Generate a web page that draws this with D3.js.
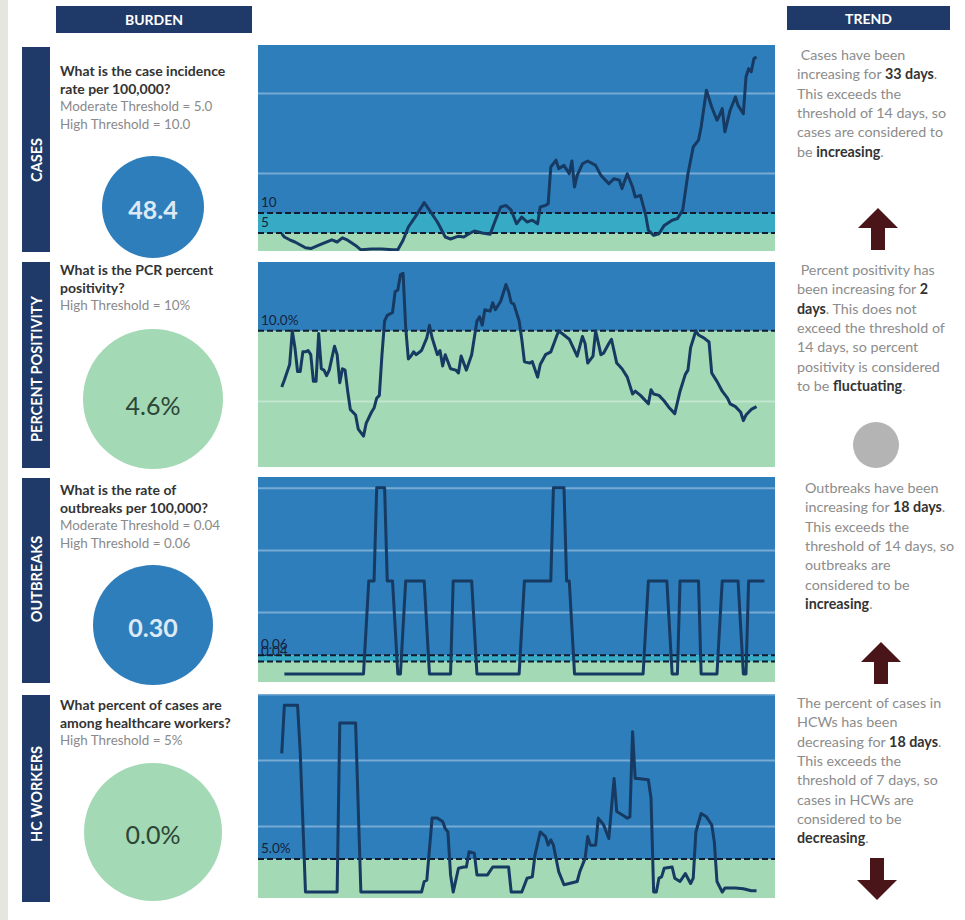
<!DOCTYPE html>
<html>
<head>
<meta charset="utf-8">
<script src="https://cdnjs.cloudflare.com/ajax/libs/d3/7.8.5/d3.min.js"></script>
<style>
  body { margin: 0; background: #fff; }
  text { font-family: Lato, "Open Sans", sans-serif; }
</style>
</head>
<body>
<div id="dashboard"></div>
<script>
// ================= data =================
// [day, value]
var casesSeries = [[0,4.8],[1,4.0],[3,3.3],[5,2.75],[9,1.3],[11,1.1],[15,2.2],[19,3.3],[21,2.75],[23,3.8],[25,3.2],[28,1.9],[30,0.8],[34,1.0],[38,1.0],[42,0.8],[44,0.8],[46,3.2],[48,6.5],[51,9.4],[54,12.6],[56,10.7],[59,7.75],[62,4.0],[64,3.5],[67,4.2],[69,4.0],[71,4.8],[73,5.5],[76,5.0],[79,4.7],[81,8.2],[83,11.5],[85,11.9],[87,10.7],[89,7.3],[91,9.0],[93,7.75],[95,8.2],[97,7.3],[98,11.5],[100,11.9],[101,12.3],[102,21.5],[104,23.2],[105,21.1],[107,21.9],[109,19.8],[110,23.0],[111,16.5],[112,19.4],[114,22.3],[116,23.0],[119,21.9],[121,19.4],[124,17.3],[126,18.6],[128,18.2],[129,16.1],[131,19.8],[133,16.5],[134,14.0],[136,14.4],[138,9.4],[139,5.7],[141,4.4],[143,4.8],[145,6.9],[148,8.2],[150,8.6],[152,10.7],[154,19.8],[156,26.5],[158,28.2],[159,31.5],[161,40.7],[163,36.5],[165,33.2],[166,34.5],[167,36.1],[168,30.3],[170,35.7],[172,39.0],[173,36.9],[175,34.8],[176,44.0],[177,46.1],[178,45.3],[179,48.6],[180,49.0]];

var positivitySeries = [[0,6.0],[1,6.5],[3,7.6],[4,10.0],[5,8.8],[6,7.1],[7,7.1],[8,8.5],[9,8.5],[10,8.6],[11,8.3],[12,6.4],[13,6.4],[14,9.8],[15,7.3],[16,7.2],[17,6.8],[18,7.2],[20,8.9],[21,8.3],[22,6.3],[23,7.3],[24,7.2],[25,5.7],[26,4.4],[28,4.0],[29,3.0],[31,2.5],[32,3.4],[34,4.2],[35,4.5],[36,5.2],[37,5.4],[38,8.3],[39,10.7],[40,11.1],[42,11.3],[43,12.8],[44,12.9],[45,14.0],[46,14.1],[47,10.2],[48,8.0],[49,8.2],[50,8.5],[51,8.3],[53,8.6],[55,9.5],[56,10.4],[57,9.5],[59,8.3],[60,8.6],[61,7.5],[62,8.3],[64,7.3],[66,7.2],[67,7.0],[68,8.2],[70,7.2],[72,8.3],[74,10.7],[75,11.0],[76,10.4],[77,11.5],[79,11.4],[80,12.0],[81,11.5],[83,12.1],[85,13.3],[86,12.8],[87,12.0],[88,11.9],[90,10.7],[91,9.4],[92,7.8],[94,7.7],[95,7.8],[97,6.7],[98,7.6],[100,8.3],[102,8.5],[104,9.5],[105,10.0],[107,9.7],[109,9.4],[112,8.2],[114,9.6],[115,9.1],[116,7.7],[118,8.2],[119,10.0],[121,8.3],[122,8.4],[124,9.1],[125,9.4],[127,7.7],[129,7.3],[131,6.7],[133,5.5],[134,5.7],[136,5.4],[139,4.8],[140,5.8],[141,5.5],[143,5.4],[145,5.0],[147,4.5],[149,4.1],[151,5.7],[153,6.9],[154,7.2],[155,8.8],[157,10.0],[158,9.7],[160,9.5],[162,9.2],[163,7.0],[165,6.4],[167,5.7],[169,5.2],[170,4.8],[172,4.6],[174,4.2],[175,3.6],[176,4.0],[178,4.4],[180,4.6]];

var outbreaksSeries = [[1,0],[31,0],[33,0.3],[35,0.3],[36,0.6],[39,0.6],[40,0.3],[42,0.3],[44,0],[45,0],[47,0.3],[54,0.3],[56,0],[64,0],[65,0.3],[72,0.3],[74,0],[90,0],[92,0.3],[102,0.3],[103,0.6],[107,0.6],[108,0.3],[109,0.3],[111,0],[137,0],[139,0.3],[146,0.3],[148,0],[150,0],[151,0.3],[158,0.3],[159,0],[165,0],[167,0.3],[173,0.3],[175,0],[176,0],[177,0.3],[183,0.3]];

var hcwSeries = [[0,21.0],[1,28.3],[6,28.3],[7,21.3],[9,0],[21,0],[22,25.6],[28,25.6],[30,0],[53,0],[54,1.6],[55,1.8],[57,11.2],[59,11.2],[61,10.7],[62,9.6],[63,9.1],[64,2.6],[65,0],[67,3.6],[69,3.8],[70,3.8],[71,6.1],[73,5.9],[74,2.6],[78,2.6],[80,3.8],[86,3.8],[87,0],[91,0],[93,2.1],[95,2.3],[96,5.6],[98,9.1],[100,8.4],[101,7.1],[102,7.9],[103,7.1],[105,3.1],[107,1.1],[109,1.3],[112,1.6],[113,3.1],[115,5.1],[116,8.4],[117,7.1],[119,7.1],[120,11.2],[122,10.2],[124,8.1],[125,12.7],[126,17.2],[127,12.2],[129,11.7],[131,11.2],[132,11.4],[133,24.3],[134,17.2],[135,17.2],[139,17.0],[140,14.2],[141,0],[142,0],[143,2.1],[144,2.3],[145,3.6],[148,3.8],[149,2.1],[151,1.6],[153,2.8],[155,1.3],[156,2.1],[157,9.1],[159,11.9],[161,11.4],[163,10.2],[164,7.6],[165,1.6],[167,0],[168,0.6],[172,0.6],[175,0.5],[178,0.2],[180,0.2]];

var rowNames = ["CASES", "PERCENT POSITIVITY", "OUTBREAKS", "HC WORKERS"];
var burdenValues = ["48.4", "4.6%", "0.30", "0.0%"];
var burdenLevel = ["high", "low", "high", "low"];
var thresholds = [[5, 10], [10], [0.04, 0.06], [5]];
var thresholdLabels = [["5", "10"], ["10.0%"], ["0.04", "0.06"], ["5.0%"]];
var gridTicks = [[20, 40], [5, 15], [0.2, 0.4, 0.6], [10, 20, 30]];

var questions = [
  ["What is the case incidence", "rate per 100,000?"],
  ["What is the PCR percent", "positivity?"],
  ["What is the rate of", "outbreaks per 100,000?"],
  ["What percent of cases are", "among healthcare workers?"]
];
var thresholdNotes = [
  ["Moderate Threshold = 5.0", "High Threshold = 10.0"],
  ["High Threshold = 10%"],
  ["Moderate Threshold = 0.04", "High Threshold = 0.06"],
  ["High Threshold = 5%"]
];
var trendText = [
  [" Cases have been", "increasing for **33 days**.", "This exceeds the", "threshold of 14 days, so", "cases are considered to", "be **increasing**."],
  [" Percent positivity has", "been increasing for **2**", "**days**. This does not", "exceed the threshold of", "14 days, so percent", "positivity is considered", "to be **fluctuating**."],
  ["Outbreaks have been", "increasing for **18 days**.", "This exceeds the", "threshold of 14 days, so", "outbreaks are", "considered to be", "**increasing**."],
  ["The percent of cases in", "HCWs has been", "decreasing for **18 days**.", "This exceeds the", "threshold of 7 days, so", "cases in HCWs are", "considered to be", "**decreasing**."]
];
var trendDirection = ["up", "flat", "up", "down"];

var allSeries = [casesSeries, positivitySeries, outbreaksSeries, hcwSeries];

// ================= layout =================
var svgWidth = 965;
var svgHeight = 920;

var panelLeft = 258, panelRight = 775;
var panelTop = [45, 262, 477, 694];
var panelBottom = [251, 467, 682, 898];
var yDomains = [[0.5, 52], [0.3, 14.9], [-0.026, 0.635], [-0.9, 30]];

var barTop = [47, 262, 478, 695];
var barBottom = [252, 468, 683, 902];
var labelCenter = [160, 369, 579, 794];

var questionY = [76, 275, 495, 710];
var circleCenter = [207, 399, 625, 832];
var circleRadius = [51, 70, 60, 69];

var trendX = [797, 797, 805, 797];
var trendY = [60, 275, 493, 708];
var markCenter = [[878, 229], [876, 445], [881, 663], [877, 879]];

var navy = "#1f3a68";
var blue = "#2e7ebc";
var teal = "#37abc5";
var green = "#a3d9b4";
var lineColor = "#173a63";

var svg = d3.select("#dashboard")
  .append("svg")
  .attr("width", svgWidth)
  .attr("height", svgHeight);

svg.append("rect")
  .attr("width", svgWidth).attr("height", svgHeight).attr("fill", "#fff");

// grey strip on the left
svg.append("rect")
  .attr("x", 0).attr("y", 0)
  .attr("width", 8).attr("height", svgHeight)
  .attr("fill", "#e6e6e1");

// ================= headers =================
function header(x, y, w, h, label) {
  svg.append("rect")
    .attr("x", x).attr("y", y)
    .attr("width", w).attr("height", h)
    .attr("fill", navy);
  svg.append("text")
    .attr("x", x + w / 2).attr("y", y + h / 2)
    .attr("text-anchor", "middle")
    .attr("dominant-baseline", "central")
    .attr("fill", "#fff")
    .attr("font-size", 14)
    .attr("font-weight", 700)
    .text(label);
}
header(56, 6, 196, 27, "BURDEN");
header(787, 6, 163, 24, "TREND");

var x = d3.scaleLinear()
  .domain([-9, 187])
  .range([panelLeft, panelRight]);

rowNames.forEach(function(name, i) {

  // ---------- vertical row label ----------
  svg.append("rect")
    .attr("x", 22).attr("y", barTop[i])
    .attr("width", 28).attr("height", barBottom[i] - barTop[i])
    .attr("fill", navy);
  svg.append("text")
    .attr("transform", "translate(36," + labelCenter[i] + ") rotate(-90)")
    .attr("text-anchor", "middle")
    .attr("dominant-baseline", "central")
    .attr("fill", "#fff")
    .attr("font-size", 14.5)
    .attr("font-weight", 700)
    .text(name);

  // ---------- question ----------
  var q = svg.append("text")
    .attr("x", 60).attr("y", questionY[i]);
  questions[i].concat(thresholdNotes[i]).forEach(function(line, k) {
    var bold = k < questions[i].length;
    q.append("tspan")
      .attr("x", 60)
      .attr("dy", k === 0 ? 0 : 17.5)
      .attr("font-size", bold ? 14 : 13.4)
      .attr("font-weight", bold ? 700 : 400)
      .attr("fill", bold ? "#333" : "#8a8a8a")
      .text(line);
  });

  // ---------- burden circle ----------
  var high = burdenLevel[i] === "high";
  svg.append("circle")
    .attr("cx", 153).attr("cy", circleCenter[i])
    .attr("r", circleRadius[i])
    .attr("fill", high ? blue : green);
  svg.append("text")
    .attr("x", 153).attr("y", circleCenter[i] + (i === 1 ? 6 : 2))
    .attr("text-anchor", "middle")
    .attr("dominant-baseline", "central")
    .attr("font-size", 25)
    .attr("font-weight", high ? 700 : 400)
    .attr("fill", high ? "#dde9f4" : "#2c4536")
    .text(burdenValues[i]);

  // ---------- trend chart ----------
  var y = d3.scaleLinear()
    .domain(yDomains[i])
    .range([panelBottom[i], panelTop[i]]);

  var g = svg.append("g");
  var clipId = "clip" + i;
  g.append("clipPath").attr("id", clipId)
    .append("rect")
    .attr("x", panelLeft).attr("y", panelTop[i])
    .attr("width", panelRight - panelLeft)
    .attr("height", panelBottom[i] - panelTop[i]);

  // background bands split at the thresholds
  var edges = [yDomains[i][0]].concat(thresholds[i], [yDomains[i][1]]);
  var bandColors = thresholds[i].length === 2 ? [green, teal, blue] : [green, blue];
  d3.range(edges.length - 1).forEach(function(k) {
    g.append("rect")
      .attr("x", panelLeft)
      .attr("y", y(edges[k + 1]))
      .attr("width", panelRight - panelLeft)
      .attr("height", y(edges[k]) - y(edges[k + 1]))
      .attr("fill", bandColors[k]);
  });

  // gridlines
  g.append("g")
    .attr("transform", "translate(" + panelLeft + ",0)")
    .call(d3.axisLeft(y).tickValues(gridTicks[i]).tickSize(-(panelRight - panelLeft)).tickFormat(""))
    .call(function(a) {
      a.select(".domain").remove();
      a.selectAll("line")
        .attr("stroke", "#fff")
        .attr("stroke-opacity", 0.35)
        .attr("stroke-width", 2);
    });

  // threshold dashed lines and labels
  thresholds[i].forEach(function(t, k) {
    g.append("line")
      .attr("x1", panelLeft).attr("x2", panelRight)
      .attr("y1", y(t)).attr("y2", y(t))
      .attr("stroke", "#111c2e")
      .attr("stroke-width", 2)
      .attr("stroke-dasharray", "6,3");
    g.append("text")
      .attr("x", panelLeft + 3)
      .attr("y", y(t) - 6)
      .attr("font-size", 13.5)
      .attr("fill", "#15233b")
      .text(thresholdLabels[i][k]);
  });

  // series line
  var line = d3.line()
    .x(d => x(d[0]))
    .y(d => y(d[1]));

  g.append("path")
    .datum(allSeries[i])
    .attr("clip-path", "url(#" + clipId + ")")
    .attr("d", line)
    .attr("fill", "none")
    .attr("stroke", lineColor)
    .attr("stroke-width", 3)
    .attr("stroke-linejoin", "round");

  // ---------- trend text ----------
  var t = svg.append("text")
    .attr("x", trendX[i]).attr("y", trendY[i])
    .attr("font-size", 14.3)
    .style("white-space", "pre");
  trendText[i].forEach(function(line, k) {
    var first = true;
    line.split("**").forEach(function(part, p) {
      if (part === "") return;
      var span = t.append("tspan")
        .attr("font-weight", p % 2 ? 700 : 400)
        .attr("fill", p % 2 ? "#333" : "#8c8c8c")
        .text(part);
      if (first) {
        span.attr("x", trendX[i]).attr("dy", k === 0 ? 0 : 19.3);
        first = false;
      }
    });
  });

  // ---------- trend mark ----------
  var c = markCenter[i];
  if (trendDirection[i] === "flat") {
    svg.append("circle")
      .attr("cx", c[0]).attr("cy", c[1])
      .attr("r", 23)
      .attr("fill", "#b4b4b4");
  } else {
    var w = 40, h = 42, stem = 14, head = 20;
    var s = trendDirection[i] === "up" ? 1 : -1;
    var pts = [
      [0, -h / 2], [w / 2, -h / 2 + head], [stem / 2, -h / 2 + head],
      [stem / 2, h / 2], [-stem / 2, h / 2], [-stem / 2, -h / 2 + head],
      [-w / 2, -h / 2 + head]
    ];
    svg.append("path")
      .attr("d", d3.line()(pts.map(p => [c[0] + p[0], c[1] + s * p[1]])) + "Z")
      .attr("fill", "#4a1518");
  }
});
</script>
</body>
</html>
